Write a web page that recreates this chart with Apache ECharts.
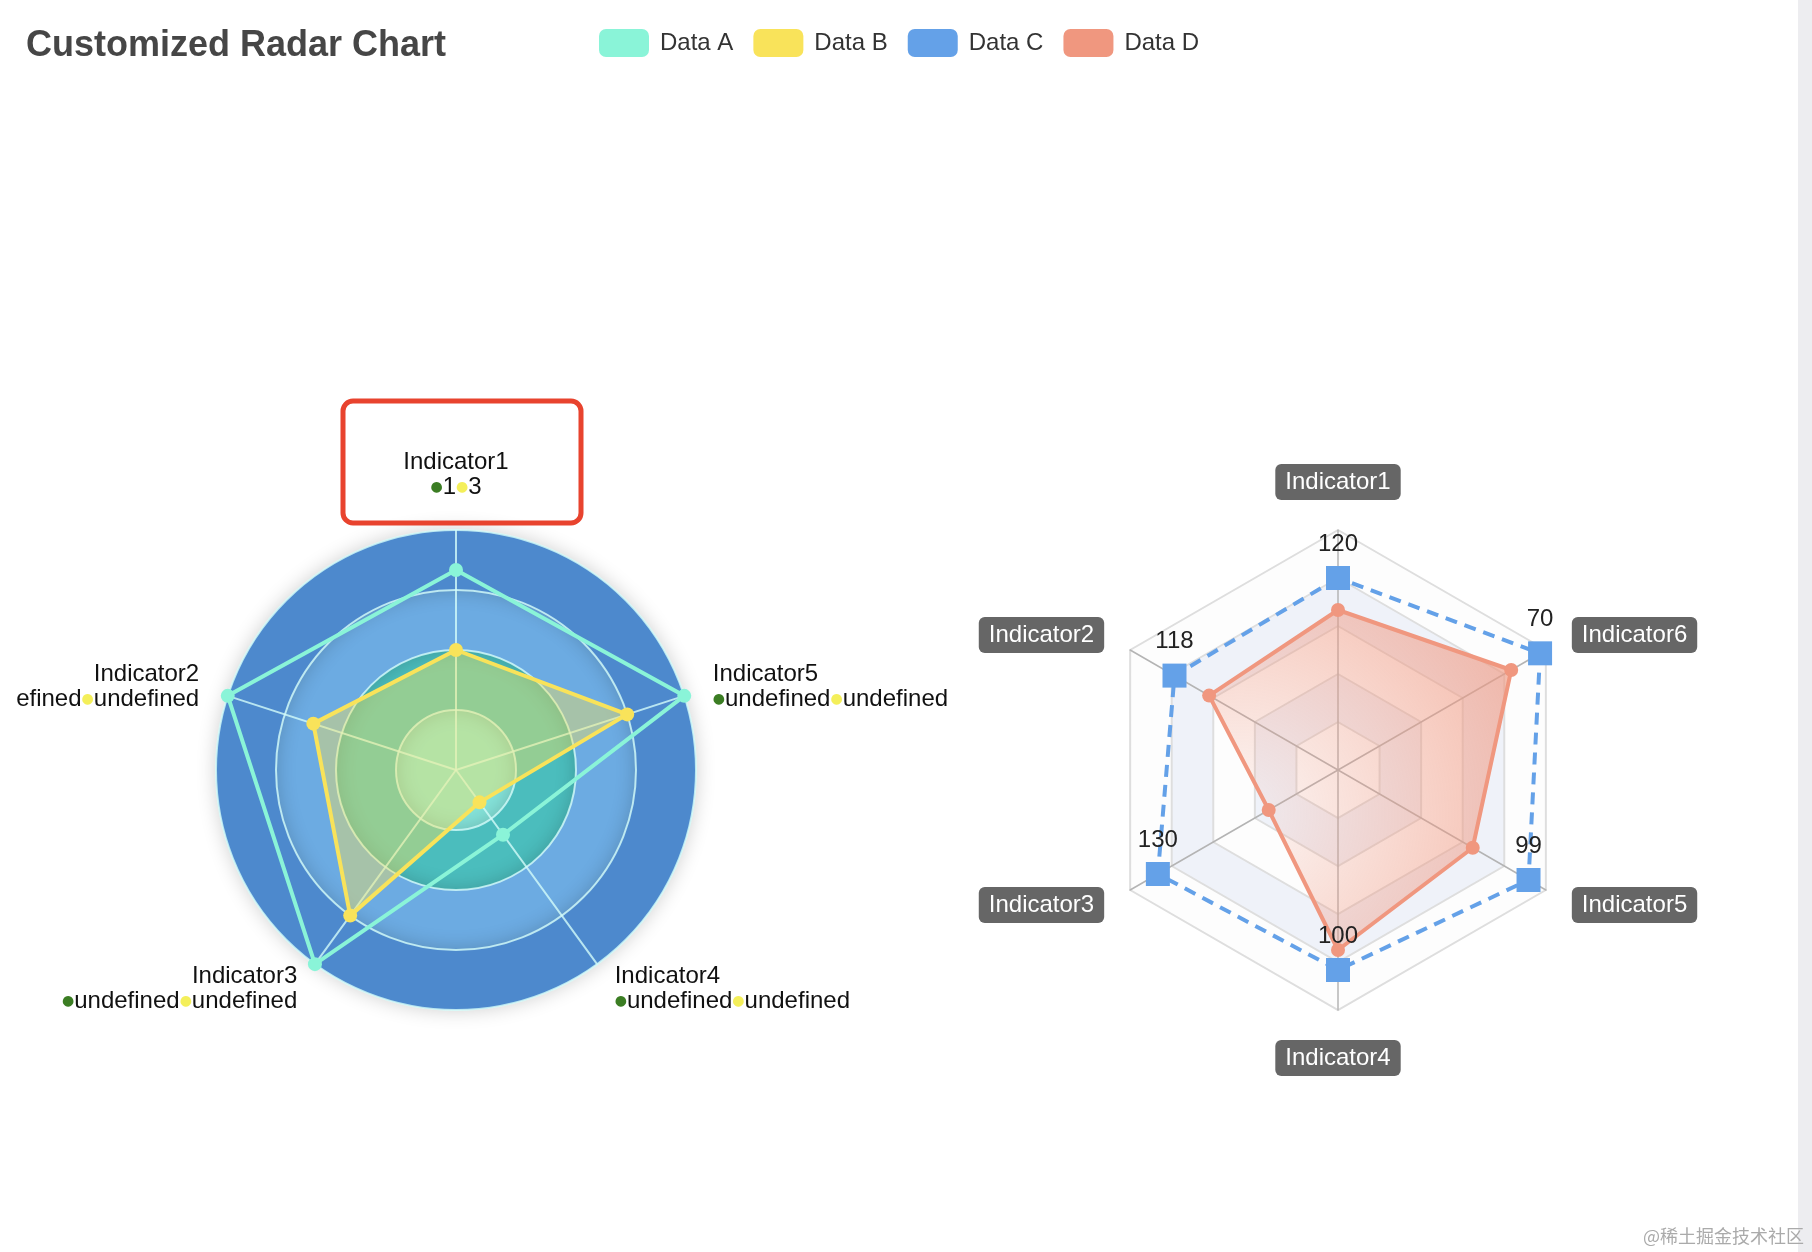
<!DOCTYPE html>
<html>
<head>
<meta charset="utf-8">
<script src="https://cdn.jsdelivr.net/npm/echarts@6/dist/echarts.min.js"></script>
<style>
html,body{margin:0;padding:0;background:#fff;overflow:hidden}
#main{width:1812px;height:1252px}
</style>
</head>
<body>
<div id="main"></div>
<script>
// ---- data ----
const seriesNames = ['Data A', 'Data B', 'Data C', 'Data D'];
const palette = ['#8AF4D8', '#F9E35A', '#64A1E8', '#F0977F'];

const leftIndicatorNames = ['Indicator1', 'Indicator2', 'Indicator3', 'Indicator4', 'Indicator5'];
const leftIndicatorMin = [0, 0, 0, -120, 0];
const leftIndicatorMax = [120, 8, 0.4, 0, 2000];
const leftNoteFirst = ['1', 'undefined', 'undefined', 'undefined', 'undefined'];
const leftNoteSecond = ['3', 'undefined', 'undefined', 'undefined', 'undefined'];
const dataA = [100, 8, 0.4, -80, 2000];
const dataB = [60, 5, 0.3, -100, 1500];

const rightIndicatorNames = ['Indicator1', 'Indicator2', 'Indicator3', 'Indicator4', 'Indicator5', 'Indicator6'];
const rightIndicatorMax = [150, 150, 150, 120, 108, 72];
const dataC = [120, 118, 130, 100, 99, 70];
const dataD = [100, 93, 50, 90, 70, 60];

const titleText = 'Customized Radar Chart';
const watermarkText = '@稀土掘金技术社区';

// ---- chart ----
const chart = echarts.init(document.getElementById('main'), null, { renderer: 'canvas' });
const FONT = '"Liberation Sans", Arial, sans-serif';

const option = {
  animation: false,
  color: palette,
  textStyle: { fontFamily: FONT },
  title: {
    text: titleText,
    left: 21,
    top: 23,
    textStyle: { fontSize: 36, fontWeight: 'bold', color: '#464646', fontFamily: FONT }
  },
  legend: {
    data: seriesNames,
    left: 594,
    top: 24,
    icon: 'roundRect',
    itemWidth: 50,
    itemHeight: 28,
    itemGap: 20,
    textStyle: { fontSize: 24, color: '#333', fontFamily: FONT, padding: [0, 0, 0, 6] }
  },
  radar: [
    {
      indicator: leftIndicatorNames.map((n, i) => ({ name: n, min: leftIndicatorMin[i], max: leftIndicatorMax[i] })),
      center: [456, 770],
      radius: 240,
      startAngle: 90,
      splitNumber: 4,
      shape: 'circle',
      axisNameGap: 30,
      axisName: {
        color: '#111',
        fontSize: 24,
        lineHeight: 25,
        fontFamily: FONT,
        formatter: function (value) {
          const i = leftIndicatorNames.indexOf(value);
          return value + '\n{g|●}' + leftNoteFirst[i] + '{y|●}' + leftNoteSecond[i];
        },
        rich: {
          g: { color: '#3b7d23', fontSize: 14, lineHeight: 25, fontFamily: '"DejaVu Sans"' },
          y: { color: '#f4ef5a', fontSize: 14, lineHeight: 25, fontFamily: '"DejaVu Sans"' }
        }
      },
      splitArea: {
        areaStyle: {
          color: ['#85E3DA', '#4BBDBD', '#6CABE2', '#4D89CD'],
          shadowColor: 'rgba(0, 0, 0, 0.2)',
          shadowBlur: 20
        }
      },
      axisLine: { lineStyle: { color: 'rgba(211, 253, 250, 0.8)', width: 2 } },
      splitLine: { lineStyle: { color: 'rgba(211, 253, 250, 0.8)', width: 2 } }
    },
    {
      indicator: rightIndicatorNames.map((n, i) => ({ name: n, max: rightIndicatorMax[i] })),
      center: [1338, 770],
      radius: 240,
      startAngle: 90,
      splitNumber: 5,
      shape: 'polygon',
      axisNameGap: 30,
      axisName: {
        color: '#fff',
        backgroundColor: '#666',
        borderRadius: 6,
        padding: [6, 10],
        fontSize: 24,
        fontFamily: FONT
      },
      splitArea: {
        show: true,
        areaStyle: { color: ['rgba(250,250,250,0.3)', 'rgba(210,219,238,0.35)'] }
      },
      axisLine: { lineStyle: { color: '#b4b4b4', width: 1.5 } },
      splitLine: { lineStyle: { color: '#dedede', width: 2 } }
    }
  ],
  series: [
    {
      type: 'radar',
      radarIndex: 0,
      symbol: 'circle',
      symbolSize: 14,
      lineStyle: { width: 4 },
      data: [
        { name: seriesNames[0], value: dataA },
        {
          name: seriesNames[1],
          value: dataB,
          areaStyle: { color: 'rgba(249, 227, 90, 0.6)' }
        }
      ]
    },
    {
      type: 'radar',
      radarIndex: 1,
      data: [
        {
          name: seriesNames[2],
          value: dataC,
          symbol: 'rect',
          symbolSize: 24,
          lineStyle: { type: [12, 8], width: 4 },
          label: {
            show: true,
            position: 'top',
            distance: 10,
            fontSize: 24,
            color: '#222',
            fontFamily: FONT,
            formatter: function (params) { return params.value; }
          }
        },
        {
          name: seriesNames[3],
          value: dataD,
          symbol: 'circle',
          symbolSize: 14,
          lineStyle: { width: 4 },
          areaStyle: {
            color: new echarts.graphic.RadialGradient(0.1, 0.6, 1, [
              { color: 'rgba(240, 151, 127, 0.1)', offset: 0 },
              { color: 'rgba(240, 151, 127, 0.9)', offset: 1 }
            ])
          }
        }
      ]
    }
  ],
  graphic: [
    {
      type: 'rect',
      z: 50,
      shape: { x: 343, y: 401, width: 238, height: 122, r: 10 },
      style: { fill: 'transparent', stroke: '#E8432E', lineWidth: 5 }
    },
    {
      type: 'rect',
      z: 100,
      shape: { x: 0, y: 0, width: 16, height: 1252 },
      style: { fill: '#fff' }
    },
    {
      type: 'rect',
      z: 100,
      shape: { x: 1798, y: 0, width: 14, height: 1252 },
      style: { fill: '#ededf0' }
    },
    {
      type: 'text',
      z: 100,
      right: 8,
      bottom: 7,
      style: {
        text: watermarkText,
        fill: '#aaaaaa',
        font: '18px "Noto Sans CJK SC", sans-serif'
      }
    }
  ]
};

chart.setOption(option);
</script>
</body>
</html>
